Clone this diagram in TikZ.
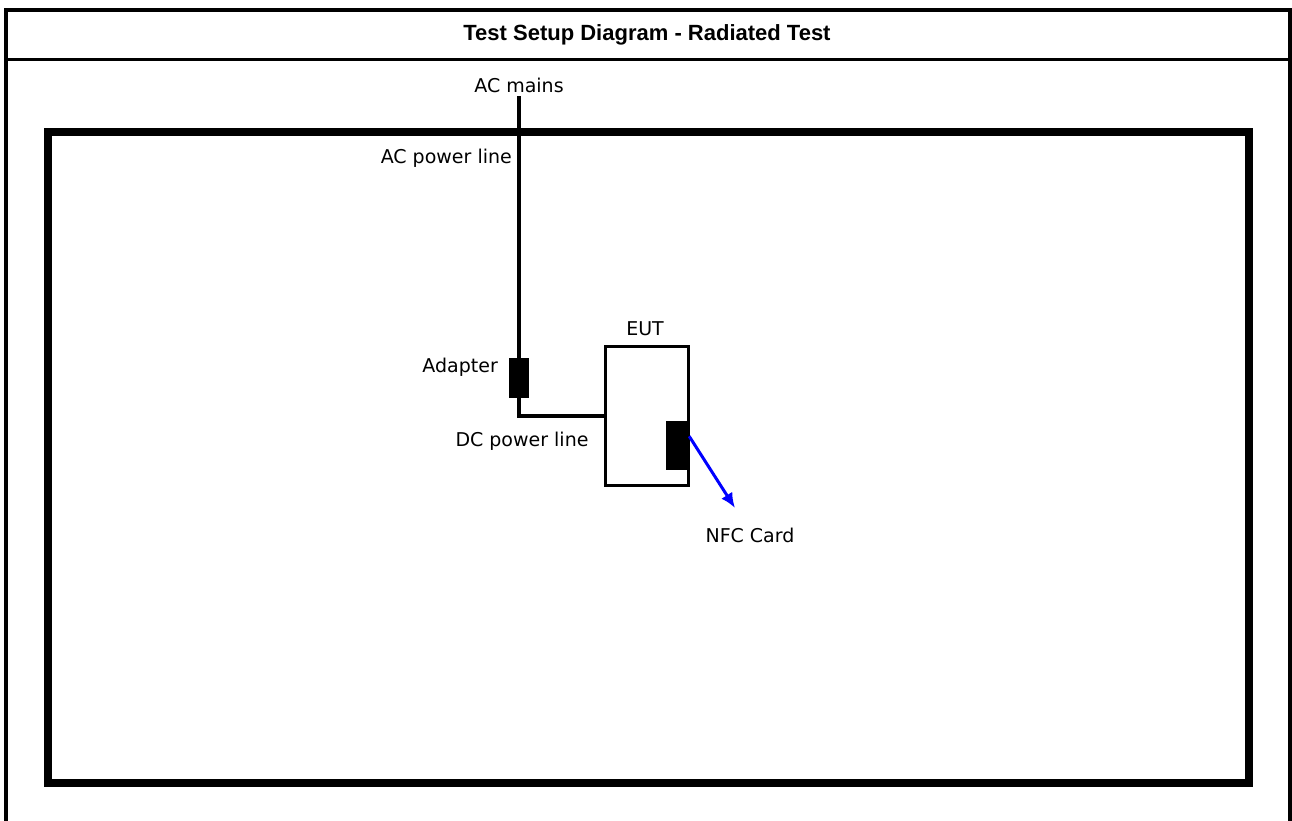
\documentclass[tikz,border=0pt]{standalone}
\usepackage{fontspec}
\newfontfamily\labelfont{DejaVu Sans}
\newfontfamily\headfont{Liberation Sans}
\usetikzlibrary{arrows.meta,positioning}
\tikzset{
  lbl/.style={font=\labelfont\fontsize{19}{22}\selectfont, inner sep=0pt},
  blackbox/.style={draw=black, fill=black, line width=1pt, inner sep=0pt},
  wire/.style={line width=3.4pt},
}
\begin{document}
\begin{tikzpicture}[x=1pt, y=-1pt, line cap=rect, line join=miter]
  \useasboundingbox (0,0) rectangle (1292,821);
  \coordinate (TL) at (6,10);
  \coordinate (TR) at (1289.5,10);
  \coordinate (BL) at (6,821);
  \coordinate (BR) at (1289.5,821);
  \coordinate (HL) at (6,59.5);
  \coordinate (HR) at (1289.5,59.5);
  \coordinate (R1) at (48,132);
  \coordinate (R2) at (1249,783);

  % table frame and title row
  \draw[line width=4pt, line cap=butt] (BL)--(TL)--(TR)--(BR);
  \draw[line width=2.5pt, line cap=butt] (HL)--(HR);
  \node[font=\headfont\bfseries\fontsize{22}{26}\selectfont] (title) at (647,35) {Test Setup Diagram - Radiated Test};

  % room
  \draw[line width=8pt] (R1) rectangle (R2);

  % units
  \node[blackbox, minimum width=19pt, minimum height=39pt] (adapter) at (519,377.5) {};
  \node[draw, line width=3.4pt, minimum width=83pt, minimum height=139pt, inner sep=0pt] (eut) at (647,416) {};
  \node[blackbox, minimum width=23pt, minimum height=48pt] (nfc) at (678,445.5) {};
  \coordinate (card) at (735,508);

  % labels
  \node[lbl] (mains) at (519,85) {AC mains};
  \node[lbl, anchor=east] (acline) at (512,158) {AC power line};
  \node[lbl, anchor=east] (adaptlbl) at (498,367) {Adapter};
  \node[lbl] (dcline) at (522,441) {DC power line};
  \node[lbl] (eutlbl) at (645,329) {EUT};
  \node[lbl] (cardlbl) at (750,535) {NFC Card};

  % cables
  \draw[wire] (mains.south)++(0,5) -- (adapter.north);
  \draw[wire] (adapter.south) |- (eut.west);
  \draw[line width=3pt, blue, -{Latex[length=15pt,width=13pt]}] ([yshift=8pt]nfc.east) -- (card);
\end{tikzpicture}
\end{document}
